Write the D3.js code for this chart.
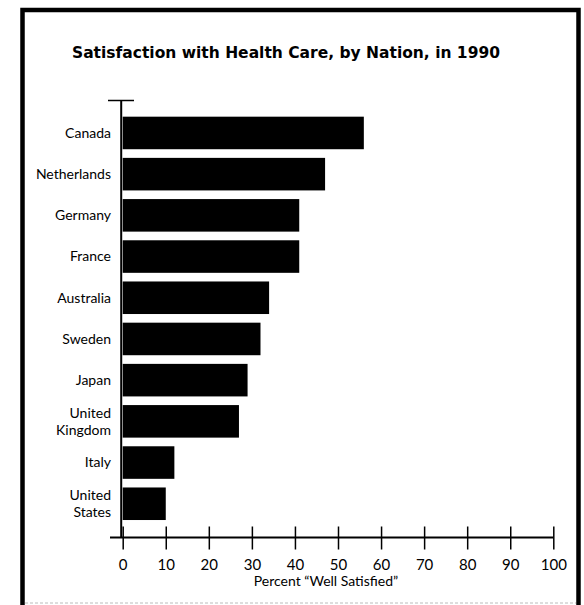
<!DOCTYPE html>
<html>
<head>
<meta charset="utf-8">
<script src="https://cdn.jsdelivr.net/npm/d3@7"></script>
<style>
  html, body { margin: 0; padding: 0; background: #fff; }
  svg { display: block; }
</style>
</head>
<body>
<svg id="chart" width="584" height="605"></svg>
<script>
const countries = ["Canada", "Netherlands", "Germany", "France", "Australia", "Sweden", "Japan", "United Kingdom", "Italy", "United States"];
const labelLines = [["Canada"], ["Netherlands"], ["Germany"], ["France"], ["Australia"], ["Sweden"], ["Japan"], ["United", "Kingdom"], ["Italy"], ["United", "States"]];
const satisfied = [56, 47, 41, 41, 34, 32, 29, 27, 12, 10];
const xTicks = [0, 10, 20, 30, 40, 50, 60, 70, 80, 90, 100];
const titleText = "Satisfaction with Health Care, by Nation, in 1990";
const xTitle = "Percent \u201CWell Satisfied\u201D";

const svg = d3.select("#chart");
const labelFont = "Lato, 'Open Sans', sans-serif";

// frame
svg.append("rect").attr("x", 22.5).attr("y", 10).attr("width", 556).attr("height", 600)
  .attr("fill", "none").attr("stroke", "#000").attr("stroke-width", 4.5);
svg.append("line").attr("x1", 25).attr("x2", 576).attr("y1", 603).attr("y2", 603)
  .attr("stroke", "#bbb").attr("stroke-width", 1).attr("stroke-dasharray", "3,2");

// title
svg.append("text").attr("x", 286).attr("y", 57.5).attr("text-anchor", "middle")
  .attr("font-family", "'DejaVu Sans', sans-serif").attr("font-weight", "bold")
  .attr("font-size", 16).attr("textLength", 428).attr("lengthAdjust", "spacingAndGlyphs")
  .attr("fill", "#000").text(titleText);

const x = d3.scaleLinear().domain([0, 100]).range([122.7, 553.3]);
const y = d3.scaleBand().domain(countries).range([112.35, 524.35]).paddingInner(0.21).paddingOuter(0.105);

// bars
svg.append("g").selectAll("rect").data(countries).join("rect")
  .attr("x", x(0))
  .attr("y", d => y(d))
  .attr("width", (d, i) => x(satisfied[i]) - x(0))
  .attr("height", y.bandwidth())
  .attr("fill", "#000");

// category labels
const lab = svg.append("g").attr("font-family", labelFont).attr("font-size", 14).attr("fill", "#000").attr("text-anchor", "end");
countries.forEach((c, i) => {
  const cy = y(c) + y.bandwidth() / 2;
  const lines = labelLines[i];
  lines.forEach((t, j) => {
    const off = (j - (lines.length - 1) / 2) * 16.5;
    lab.append("text").attr("x", 111).attr("y", cy + off).attr("dy", "0.35em").text(t);
  });
});

// vertical axis with cap
const axisY = 537.5;
svg.append("line").attr("x1", x(0) - 1.5).attr("x2", x(0) - 1.5).attr("y1", 100).attr("y2", axisY)
  .attr("stroke", "#000").attr("stroke-width", 2);
svg.append("line").attr("x1", 108).attr("x2", 134).attr("y1", 100.5).attr("y2", 100.5)
  .attr("stroke", "#000").attr("stroke-width", 1.5);

// horizontal axis
const xAxis = d3.axisBottom(x).tickValues(xTicks).tickSize(0).tickPadding(0).tickFormat(d3.format("d"));
const gx = svg.append("g").attr("transform", `translate(0,${axisY})`).call(xAxis);
gx.select(".domain").remove();
gx.append("line").attr("x1", 110).attr("x2", x(100)).attr("y1", 0).attr("y2", 0)
  .attr("stroke", "#000").attr("stroke-width", 2);
gx.selectAll(".tick line").attr("y1", -11).attr("y2", 12).attr("stroke", "#000").attr("stroke-width", 1.5);
gx.selectAll(".tick text").attr("y", 27).attr("dy", "0.35em")
  .attr("font-family", labelFont).attr("font-size", 15).attr("fill", "#000");

svg.append("text").attr("x", 326).attr("y", 581).attr("dy", "0.35em").attr("text-anchor", "middle")
  .attr("font-family", labelFont).attr("font-size", 14).attr("fill", "#000").text(xTitle);
</script>
</body>
</html>
